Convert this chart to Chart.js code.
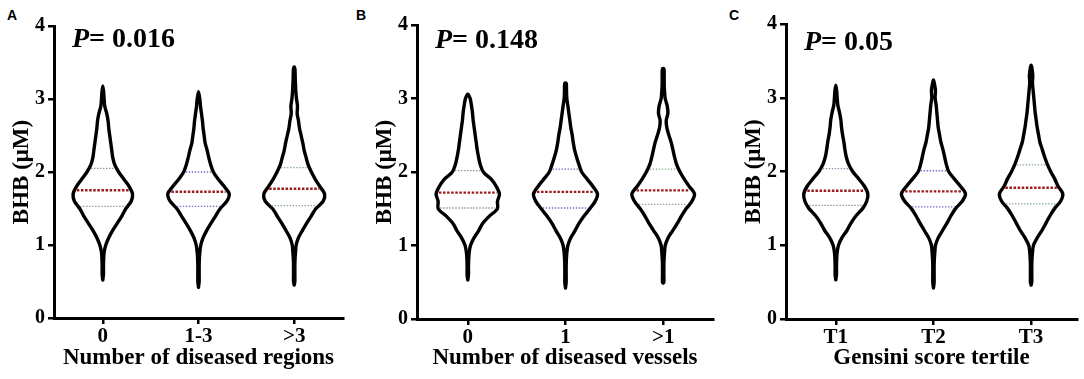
<!DOCTYPE html>
<html><head><meta charset="utf-8">
<script src="https://cdn.jsdelivr.net/npm/chart.js@4.4.1/dist/chart.umd.min.js"></script>
<style>
html,body{margin:0;padding:0;background:#fff;}
#wrap{position:relative;width:1084px;height:379px;overflow:hidden;background:#fff;}
canvas{position:absolute;top:0;}
.lbl{position:absolute;top:8px;font:bold 14px "Liberation Sans",Arial,sans-serif;color:#000;line-height:14px;}
</style></head><body>
<div id="wrap">
<div class="lbl" style="left:7px">A</div>
<div class="lbl" style="left:356px">B</div>
<div class="lbl" style="left:729px">C</div>
<canvas id="cA" width="351" height="379" style="left:0px"></canvas>
<canvas id="cB" width="358" height="379" style="left:363px"></canvas>
<canvas id="cC" width="352" height="379" style="left:732px"></canvas>
</div>
<script>
// ---------- data ----------
const bhbGrid = [0.5,0.6,0.7,0.8,0.9,1.0,1.1,1.2,1.3,1.4,1.5,1.6,1.7,1.8,1.9,2.0,2.1,2.2,2.3,2.4,2.5,2.6,2.7,2.8,2.9,3.0,3.1,3.2,3.3,3.4];
const yTicks = [0,1,2,3,4];
const yTitle = 'BHB (μM)';

const categoriesA = ['0','1-3','>3'];
const categoriesB = ['0','1','>1'];
const categoriesC = ['T1','T2','T3'];
const xTitles = ['Number of diseased regions','Number of diseased vessels','Gensini score tertile'];
const pValues = ['0.016','0.148','0.05'];

// relative density (violin half-width) on bhbGrid; null = outside data range
const densA1 = [null,.02,.02,.025,.04,.09,.18,.30,.44,.58,.70,.86,.90,.80,.64,.48,.36,.30,.27,.24,.21,.18,.16,.12,.06,.04,.025,null,null,null];
const densA2 = [.02,.02,.02,.025,.04,.07,.14,.25,.38,.52,.66,.86,.93,.78,.60,.45,.37,.31,.26,.20,.17,.14,.12,.09,.06,.04,null,null,null,null];
const densA3 = [.02,.02,.02,.025,.04,.06,.13,.25,.38,.52,.66,.88,.92,.78,.64,.52,.42,.36,.30,.26,.21,.16,.13,.09,.10,.07,.05,.04,.03,.025];
const densB1 = [null,.02,.02,.025,.04,.08,.18,.32,.44,.64,.88,.88,.94,.85,.70,.46,.37,.32,.28,.25,.22,.19,.16,.14,.11,.07,null,null,null,null];
const densB2 = [.02,.02,.02,.025,.04,.07,.15,.28,.40,.55,.72,.88,.95,.82,.65,.48,.40,.33,.27,.23,.20,.16,.13,.10,.07,.04,.03,.025,null,null];
const densB3 = [.02,.02,.02,.025,.04,.06,.14,.28,.42,.54,.68,.85,.93,.78,.63,.50,.40,.34,.29,.24,.17,.11,.09,.14,.12,.06,.04,.03,.03,.025];
const densC1 = [null,.02,.02,.025,.04,.08,.18,.33,.45,.60,.80,.92,.95,.85,.68,.50,.38,.31,.27,.24,.20,.17,.15,.11,.06,.04,.025,null,null,null];
const densC2 = [.02,.02,.02,.025,.04,.06,.14,.27,.40,.52,.66,.86,.95,.80,.62,.45,.38,.33,.28,.22,.18,.14,.12,.10,.08,.05,.06,.025,null,null];
const densC3 = [.02,.02,.02,.025,.04,.07,.18,.32,.44,.56,.70,.88,.94,.80,.70,.58,.48,.40,.33,.26,.22,.18,.15,.12,.10,.08,.06,.04,.05,.025];

// [min, max] of each group
const rangeA = [[0.52,3.18],[0.42,3.10],[0.45,3.44]];
const rangeB = [[0.53,3.06],[0.42,3.21],[0.49,3.41]];
const rangeC = [[0.53,3.17],[0.42,3.24],[0.46,3.44]];
// [Q1, median, Q3]
const quartA = [[1.53,1.75,2.05],[1.53,1.73,2.00],[1.54,1.77,2.06]];
const quartB = [[1.51,1.72,2.02],[1.51,1.73,2.04],[1.56,1.75,2.04]];
const quartC = [[1.54,1.74,2.04],[1.52,1.73,2.01],[1.56,1.78,2.09]];

// ---------- styling ----------
const SERIF = '"Liberation Serif","Times New Roman",serif';
const WIDTH_SCALE = 0.345;           // category units per unit of relative density
const quartColors = ['#9a88a4','#6f6fc6','#88aa88'];
const medianColor = '#9b1c1c';

function densAt(dens, q){
  for (let i=0;i<bhbGrid.length-1;i++){
    if (q>=bhbGrid[i] && q<=bhbGrid[i+1]){
      const a = dens[i] ?? 0, b = dens[i+1] ?? 0;
      const t = (q-bhbGrid[i])/(bhbGrid[i+1]-bhbGrid[i]);
      return a + (b-a)*t;
    }
  }
  return 0;
}
function outline(c, rng, dens){
  const [lo,hi] = rng;
  const right = [];
  bhbGrid.forEach((v,i)=>{ const d=dens[i]; if (d!=null && v>lo && v<hi) right.push({x:c+d*WIDTH_SCALE, y:v}); });
  const left = right.slice().reverse().map(p=>({x:2*c-p.x, y:p.y}));
  return [{x:c,y:lo}, ...right, {x:c,y:hi}, ...left, {x:c,y:lo}];
}
function buildDatasets(densList, ranges, quarts){
  const ds = [];
  densList.forEach((dens,i)=>{
    const c = i;
    quarts[i].forEach((q,k)=>{
      const h = Math.max(densAt(dens,q)*WIDTH_SCALE - 0.022, 0);
      const isMed = k===1;
      ds.push({
        data:[{x:c-h,y:q},{x:c+h,y:q}],
        borderColor: isMed ? medianColor : quartColors[i],
        borderWidth: isMed ? 2.4 : 1.3,
        borderDash: isMed ? [2.5,1.6] : [1.4,1.6],
        tension:0
      });
    });
    ds.push({
      data: outline(c, ranges[i], dens),
      borderColor:'#000', borderWidth:3.4, tension:0.3,
      borderJoinStyle:'round', borderCapStyle:'round'
    });
  });
  return ds;
}

const pPlugin = {
  id:'ptext',
  afterDraw(chart, args, opts){
    const ctx = chart.ctx; ctx.save();
    ctx.fillStyle='#000'; ctx.textBaseline='alphabetic'; ctx.textAlign='left';
    const x = chart.chartArea.left + 18, y = opts.baseline;
    ctx.font = 'italic bold 28px ' + SERIF;
    ctx.fillText('P', x, y);
    const w = ctx.measureText('P').width;
    ctx.font = 'bold 28px ' + SERIF;
    ctx.fillText('= ' + opts.text, x + w, y);
    ctx.restore();
  }
};

function makeChart(id, cats, densList, ranges, quarts, xTitle, pText, cfg){
  const axisCommon = {
    grid:{display:true, drawOnChartArea:false, drawTicks:true, tickLength:6, lineWidth:2.5, color:'#000'},
    border:{display:true, width:3, color:'#000'}
  };
  new Chart(document.getElementById(id), {
    type:'line',
    data:{ datasets: buildDatasets(densList, ranges, quarts) },
    options:{
      responsive:false, animation:false, events:[],
      layout:{padding:{left:0, right:cfg.padRight, top:cfg.top, bottom:0}},
      elements:{ point:{radius:0, hoverRadius:0}, line:{fill:false} },
      plugins:{ legend:{display:false}, tooltip:{enabled:false}, ptext:{text:pText, baseline:cfg.pBase} },
      scales:{
        x:{ type:'linear', min:cfg.xmin, max:cfg.xmax,
          afterBuildTicks: s => { s.ticks = cats.map((_,i)=>({value:i})); },
          ticks:{ callback:(v)=>cats[v], font:{family:SERIF, weight:'bold', size:21}, color:'#000', padding:0, maxRotation:0, autoSkip:false },
          title:{ display:true, text:xTitle, font:{family:SERIF, weight:'bold', size:23}, color:'#000', padding:{top:0,bottom:7} },
          afterFit: s => { s.height = cfg.xh; },
          ...axisCommon },
        y:{ type:'linear', min:0, max:4,
          afterBuildTicks: s => { s.ticks = yTicks.map(v=>({value:v})); },
          ticks:{ font:{family:SERIF, weight:'bold', size:20}, color:'#000', padding:3 },
          title:{ display:true, text:yTitle, font:{family:SERIF, weight:'bold', size:23}, color:'#000', padding:{top:8,bottom:0} },
          afterFit: s => { s.width = 54; },
          ...axisCommon }
      }
    },
    plugins:[pPlugin]
  });
}

makeChart('cA', categoriesA, [densA1,densA2,densA3], rangeA, quartA, xTitles[0], pValues[0],
  {xmin:-0.51, xmax:2.51, padRight:8, top:26, xh:61, pBase:47});
makeChart('cB', categoriesB, [densB1,densB2,densB3], rangeB, quartB, xTitles[1], pValues[1],
  {xmin:-0.52, xmax:2.51, padRight:8, top:25, xh:60, pBase:48});
makeChart('cC', categoriesC, [densC1,densC2,densC3], rangeC, quartC, xTitles[2], pValues[2],
  {xmin:-0.51, xmax:2.47, padRight:7, top:24, xh:60, pBase:50});
</script>
</body></html>
